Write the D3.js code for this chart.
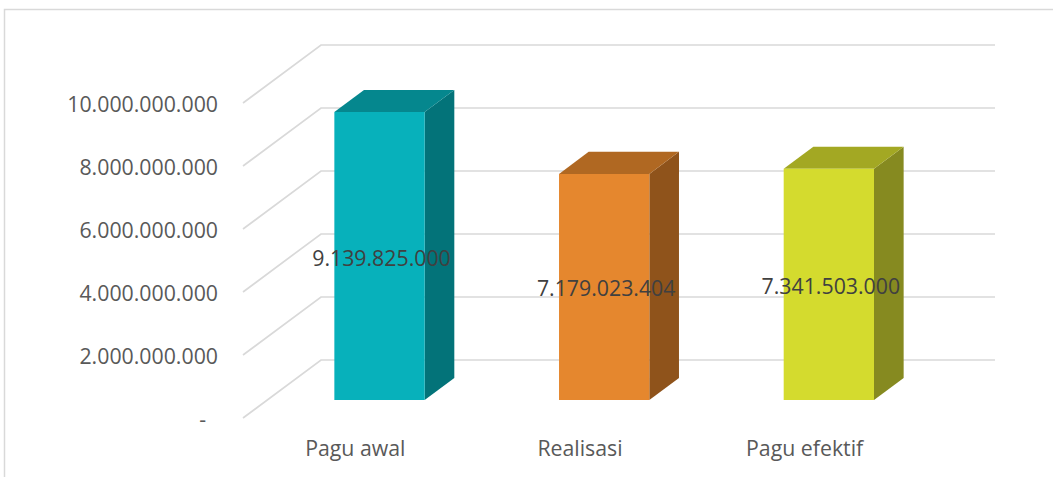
<!DOCTYPE html>
<html>
<head>
<meta charset="utf-8">
<script src="https://cdn.jsdelivr.net/npm/d3@7"></script>
<style>
  html, body { margin: 0; padding: 0; background: #ffffff; }
  svg { display: block; }
  text { font-family: "Open Sans", "Liberation Sans", sans-serif; }
</style>
</head>
<body>
<svg id="chart" width="1053" height="477"></svg>
<script>
// Budget figures (Rupiah)
const categories = ["Pagu awal", "Realisasi", "Pagu efektif"];
const values = [9139825000, 7179023404, 7341503000];
const tickValues = [0, 2000000000, 4000000000, 6000000000, 8000000000, 10000000000];

// Face colours per bar: front, top, side
const frontColors = ["#07B1BB", "#E5872E", "#D4DB2E"];
const topColors   = ["#05878E", "#B06822", "#A3A823"];
const sideColors  = ["#037379", "#8F531B", "#868A20"];

const svg = d3.select("#chart");

// Oblique 3D layout: front floor edge, depth vector of the plot box
const floorY = 418;
const depthX = 78, depthY = -58;
const barDepth0 = 0.31, barDepth1 = 0.69;
const plotLeft = 243, plotRight = 917;

const x = d3.scaleBand()
  .domain(categories)
  .range([plotLeft, plotRight])
  .paddingInner(0.598)
  .paddingOuter(0.299);

const y = d3.scaleLinear()
  .domain([0, 10000000000])
  .range([0, 315]);

// project a point given front-plane x, value and depth fraction
function P(xf, v, d) {
  return [xf + d * depthX, floorY - y(v) + d * depthY];
}

const fmt = v => v === 0 ? "-" : d3.format(",")(v).replace(/,/g, ".");
const fontSize = 21.3;

// chart frame
svg.append("rect")
  .attr("x", 4.5).attr("y", 9.5)
  .attr("width", 1100).attr("height", 500)
  .attr("fill", "none").attr("stroke", "#D9D9D9").attr("stroke-width", 1.5);

// gridlines: side wall diagonal + back wall horizontal
const grid = svg.append("g").attr("stroke", "#D9D9D9").attr("stroke-width", 1.7).attr("fill", "none");
tickValues.forEach(t => {
  const a = P(plotLeft, t, 0), b = P(plotLeft, t, 1), c = P(plotRight, t, 1);
  grid.append("polyline")
    .attr("points", [a, b, c].map(p => p.join(",")).join(" "));
});

// y axis labels
svg.append("g").selectAll("text")
  .data(tickValues)
  .join("text")
  .attr("x", t => t === 0 ? 206 : 218)
  .attr("y", t => P(plotLeft, t, 0)[1] + 8.5)
  .attr("text-anchor", "end")
  .attr("font-size", fontSize)
  .attr("fill", "#595959")
  .text(fmt);

// bars
const bars = svg.append("g").selectAll("g")
  .data(categories.map((c, i) => ({ c, v: values[i], i })))
  .join("g");

const poly = pts => pts.map(p => p.join(",")).join(" ");

bars.append("polygon") // side face
  .attr("points", d => {
    const x0 = x(d.c) + x.bandwidth();
    return poly([P(x0, 0, barDepth0), P(x0, 0, barDepth1), P(x0, d.v, barDepth1), P(x0, d.v, barDepth0)]);
  })
  .attr("fill", d => sideColors[d.i]);

bars.append("polygon") // top face
  .attr("points", d => {
    const x0 = x(d.c), x1 = x0 + x.bandwidth();
    return poly([P(x0, d.v, barDepth0), P(x1, d.v, barDepth0), P(x1, d.v, barDepth1), P(x0, d.v, barDepth1)]);
  })
  .attr("fill", d => topColors[d.i]);

bars.append("polygon") // front face
  .attr("points", d => {
    const x0 = x(d.c), x1 = x0 + x.bandwidth();
    return poly([P(x0, 0, barDepth0), P(x1, 0, barDepth0), P(x1, d.v, barDepth0), P(x0, d.v, barDepth0)]);
  })
  .attr("fill", d => frontColors[d.i]);

// data labels centred on the front face
bars.append("text")
  .attr("x", d => P(x(d.c) + x.bandwidth() / 2, 0, barDepth0)[0] + 2)
  .attr("y", d => (P(0, 0, barDepth0)[1] + P(0, d.v, barDepth0)[1]) / 2 + 9.5)
  .attr("text-anchor", "middle")
  .attr("font-size", fontSize)
  .attr("fill", "#404040")
  .text(d => fmt(d.v));

// category labels along the front floor edge
svg.append("g").selectAll("text")
  .data(categories)
  .join("text")
  .attr("x", c => x(c) + x.bandwidth() / 2)
  .attr("y", 456)
  .attr("text-anchor", "middle")
  .attr("font-size", fontSize)
  .attr("fill", "#595959")
  .text(c => c);
</script>
</body>
</html>
